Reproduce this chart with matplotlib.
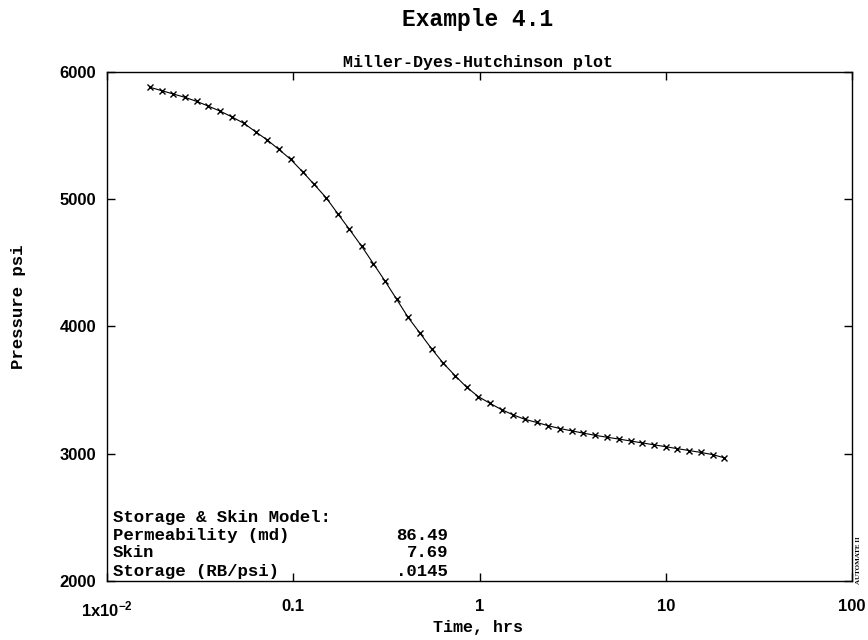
import matplotlib
matplotlib.use("Agg")
import matplotlib.pyplot as plt
from matplotlib.ticker import FixedLocator, FixedFormatter, NullLocator

# Miller-Dyes-Hutchinson data
# time (hrs), pressure (psi)
time_hrs = [0.0170, 0.0197, 0.0227, 0.0262, 0.0303, 0.0350, 0.0404, 0.0467,
            0.0544, 0.0628, 0.0726, 0.0838, 0.0969, 0.1124, 0.1292, 0.1499,
            0.1733, 0.2000, 0.2331, 0.2691, 0.3109, 0.3593, 0.4131, 0.4792,
            0.5537, 0.6391, 0.7388, 0.8540, 0.9854, 1.139, 1.316, 1.519,
            1.755, 2.028, 2.341, 2.705, 3.126, 3.609, 4.170, 4.819,
            5.632, 6.484, 7.485, 8.648, 10.03, 11.53, 13.38, 15.46,
            17.87, 20.62]
pressure = [5880, 5853, 5827, 5801, 5769, 5732, 5693, 5648,
            5596, 5530, 5465, 5391, 5313, 5215, 5118, 5013,
            4887, 4764, 4630, 4494, 4357, 4213, 4073, 3947,
            3824, 3711, 3614, 3522, 3449, 3396, 3346, 3305,
            3270, 3246, 3220, 3198, 3180, 3162, 3145, 3130,
            3115, 3100, 3085, 3070, 3055, 3040, 3025, 3010,
            2993, 2968]

x_ticks = [0.01, 0.1, 1, 10, 100]
x_tick_labels = ["1x10$^{-2}$", "0.1", "1", "10", "100"]
y_ticks = [2000, 3000, 4000, 5000, 6000]
y_tick_labels = ["2000", "3000", "4000", "5000", "6000"]

model_names = ["Permeability (md)", "Skin", "Storage (RB/psi)"]
model_values = ["86.49", "7.69", ".0145"]

mono = "Liberation Mono"
sans = "Liberation Sans"
plt.rcParams["mathtext.fontset"] = "custom"
plt.rcParams["mathtext.rm"] = sans + ":bold"
plt.rcParams["mathtext.it"] = sans + ":bold"
plt.rcParams["mathtext.bf"] = sans + ":bold"

fig = plt.figure(figsize=(8.68, 6.4), dpi=100)
ax = fig.add_axes([0.1233, 0.0922, 0.8583, 0.7953])

ax.plot(time_hrs, pressure, color="black", lw=0.8, marker="x",
        markersize=4, markeredgewidth=1.0)

ax.set_xscale("log")
ax.set_xlim(0.01, 100)
ax.set_ylim(2000, 6000)
ax.xaxis.set_major_locator(FixedLocator(x_ticks))
ax.xaxis.set_major_formatter(FixedFormatter(x_tick_labels))
ax.xaxis.set_minor_locator(NullLocator())
ax.yaxis.set_major_locator(FixedLocator(y_ticks))
ax.yaxis.set_major_formatter(FixedFormatter(y_tick_labels))

ax.tick_params(direction="in", length=6, width=1, top=True, right=True,
               labelsize=12)
ax.tick_params(axis="x", pad=13)
ax.tick_params(axis="y", pad=8)
for lab in ax.get_xticklabels() + ax.get_yticklabels():
    lab.set_fontfamily(sans)
    lab.set_fontweight("bold")
for s in ax.spines.values():
    s.set_linewidth(1.0)

# titles and labels
fig.text(0.55, 0.97, "Example 4.1", ha="center", va="center",
         fontfamily=mono, fontweight="bold", fontsize=16.5)
fig.text(0.551, 0.903, "Miller-Dyes-Hutchinson plot", ha="center",
         va="center", fontfamily=mono, fontweight="bold", fontsize=12)
fig.text(0.551, 0.02, "Time, hrs", ha="center", va="center",
         fontfamily=mono, fontweight="bold", fontsize=12)
fig.text(0.021, 0.52, "Pressure psi", ha="center", va="center",
         rotation=90, fontfamily=mono, fontweight="bold", fontsize=12.5)

# model results box
ax.text(0.008, 0.1238, "Storage & Skin Model:", transform=ax.transAxes,
        ha="left", va="center", fontfamily=mono, fontweight="bold",
        fontsize=12.5)
rows_y = [0.0884, 0.055, 0.0196]
for name, val, yy in zip(model_names, model_values, rows_y):
    ax.text(0.008, yy, name, transform=ax.transAxes, ha="left", va="center",
            fontfamily=mono, fontweight="bold", fontsize=12.5)
    ax.text(0.4577, yy, val, transform=ax.transAxes, ha="right",
            va="center", fontfamily=mono, fontweight="bold", fontsize=12.5)

fig.text(0.9885, 0.125, "AUTOMATE II", ha="center", va="center",
         rotation=90, fontfamily="Liberation Serif", fontweight="bold",
         fontsize=5)

fig.savefig("out.png", dpi=100)
